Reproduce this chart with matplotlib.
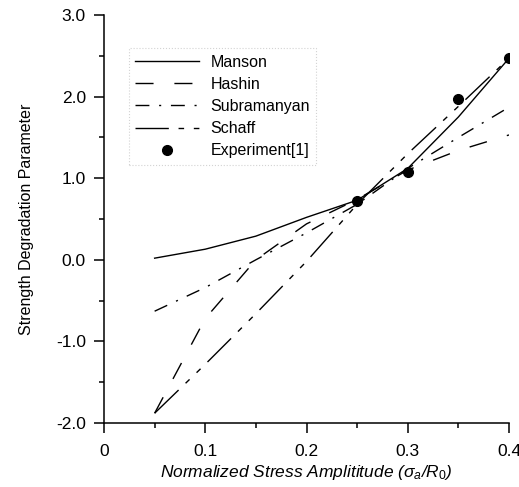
import matplotlib
matplotlib.use("Agg")

import matplotlib.pyplot as plt
import matplotlib.ticker as ticker
from matplotlib import rcParams

# Data
x_model = [0.05, 0.10, 0.15, 0.20, 0.25, 0.30, 0.35, 0.40]
manson = [0.02, 0.13, 0.29, 0.52, 0.73, 1.12, 1.75, 2.47]
hashin = [-1.88, -0.72, 0.00, 0.44, 0.74, 1.10, 1.34, 1.53]
subramanyan = [-0.63, -0.34, 0.00, 0.33, 0.68, 1.12, 1.50, 1.87]
schaff = [-1.88, -1.28, -0.66, -0.02, 0.68, 1.30, 1.88, 2.47]

x_exp = [0.25, 0.30, 0.35, 0.40]
y_exp = [0.72, 1.08, 1.97, 2.47]

rcParams.update(
    {
        "font.family": ["Liberation Sans", "DejaVu Sans"],
        "font.size": 12,
        "axes.linewidth": 1.1,
        "xtick.direction": "out",
        "ytick.direction": "out",
        "xtick.major.size": 7,
        "ytick.major.size": 7,
        "xtick.minor.size": 3.5,
        "ytick.minor.size": 3.5,
        "xtick.major.width": 1.1,
        "ytick.major.width": 1.1,
        "xtick.minor.width": 1.1,
        "ytick.minor.width": 1.1,
        "mathtext.fontset": "custom",
        "mathtext.it": "Liberation Sans:italic",
        "mathtext.rm": "Liberation Sans",
    }
)

fig = plt.figure(figsize=(5.19, 4.87), dpi=100)
ax = fig.add_axes([104 / 519, 1 - 423 / 487, 405 / 519, 408 / 487])

lw = 1.0
ax.plot(x_model, manson, color="black", lw=lw, label="Manson")
ax.plot(x_model, hashin, color="black", lw=lw, dashes=(13, 15), label="Hashin")
ax.plot(x_model, subramanyan, color="black", lw=lw, dashes=(10, 7, 1.5, 7),
        label="Subramanyan")
ax.plot(x_model, schaff, color="black", lw=lw, dashes=(24, 7, 4, 7, 4, 7),
        label="Schaff")
ax.plot(x_exp, y_exp, "o", color="black", markersize=7, label="Experiment[1]")

ax.set_xlim(0, 0.4)
ax.set_ylim(-2.0, 3.0)
ax.xaxis.set_major_locator(ticker.MultipleLocator(0.1))
ax.xaxis.set_minor_locator(ticker.MultipleLocator(0.05))
ax.yaxis.set_major_locator(ticker.MultipleLocator(1.0))
ax.yaxis.set_minor_locator(ticker.MultipleLocator(0.5))
ax.xaxis.set_major_formatter(
    ticker.FuncFormatter(lambda v, p: "0" if abs(v) < 1e-9 else f"{v:.1f}"))
ax.yaxis.set_major_formatter(ticker.FormatStrFormatter("%.1f"))
ax.tick_params(axis="x", pad=8, labelsize=12.5)
ax.tick_params(axis="y", pad=6, labelsize=12.5)

ax.spines["top"].set_visible(False)
ax.spines["right"].set_visible(False)

ax.set_xlabel(r"Normalized Stress Amplititude ($\sigma_a$/$R_0$)",
              fontstyle="italic", fontsize=12.5, labelpad=3)
ax.set_ylabel("Strength Degradation Parameter", fontsize=11.5, labelpad=16)

leg = ax.legend(
    loc="upper left",
    bbox_to_anchor=(0.042, 0.938),
    handlelength=4.0,
    handletextpad=0.7,
    labelspacing=0.45,
    borderpad=0.4,
    fontsize=11.5,
    fancybox=False,
    frameon=True,
)
leg.get_frame().set_edgecolor("#c8c8c8")
leg.get_frame().set_linestyle(":")
leg.get_frame().set_linewidth(0.8)

fig.savefig("out.png", dpi=100)
plt.close(fig)
